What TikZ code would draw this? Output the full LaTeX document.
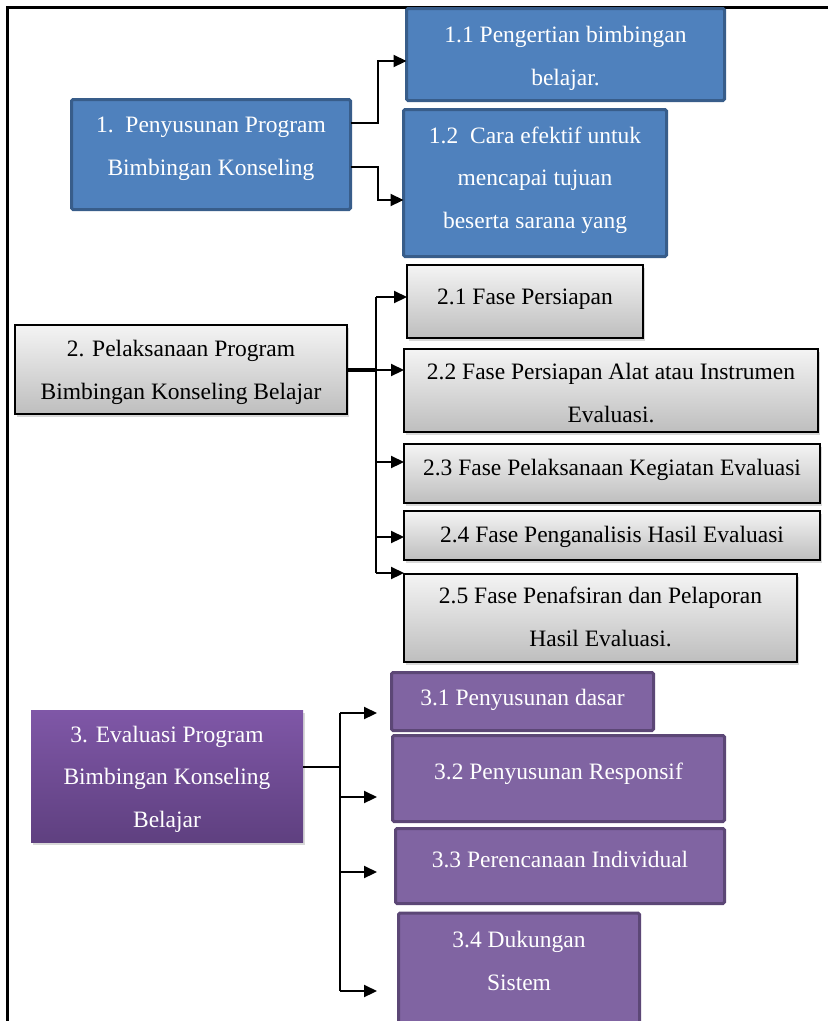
\documentclass[tikz,border=0pt]{standalone}
\usepackage{fontspec}
\setmainfont{Liberation Serif}
\usetikzlibrary{arrows.meta,shadows}
\definecolor{blueFill}{HTML}{4F81BD}
\definecolor{blueLine}{HTML}{385D8A}
\definecolor{greyTop}{HTML}{F4F4F4}
\definecolor{greyBot}{HTML}{BEBEBE}
\definecolor{plumTop}{HTML}{7F57A7}
\definecolor{plumBot}{HTML}{5F4080}
\definecolor{plumFill}{HTML}{8064A2}
\definecolor{plumLine}{HTML}{5C4776}
\tikzset{
  every node/.style={inner sep=0pt, outer sep=0pt},
  bluebox/.style={draw=blueLine, line width=3pt, fill=blueFill, rounded corners=1.5pt},
  greybox/.style={draw=black, line width=1.8pt, top color=greyTop, bottom color=greyBot,
    drop shadow={opacity=0.3, shadow xshift=2pt, shadow yshift=-3pt}},
  mainplum/.style={top color=plumTop, bottom color=plumBot,
    drop shadow={opacity=0.3, shadow xshift=2pt, shadow yshift=-3pt}},
  plumbox/.style={draw=plumLine, line width=3pt, fill=plumFill, rounded corners=1.5pt},
  lbl/.style={anchor=base, align=center, font=\fontsize{23.5}{42.5}\selectfont},
  wlbl/.style={lbl, text=white},
  klbl/.style={lbl, text=black},
  arr/.style={draw=black, line width=2.2pt, -{Triangle[length=13pt,width=12pt]}},
  link/.style={draw=black, line width=2.2pt},
}
\begin{document}
\begin{tikzpicture}[x=1pt, y=-1pt]
\useasboundingbox (0,0) rectangle (828,1021);
\clip (0,0) rectangle (828,1021);
\fill[white] (0,0) rectangle (828,1021);

% frame on the top and left side
\draw[line width=3pt] (7,1030) -- (7,7) -- (840,7);

% ---------- 1. Penyusunan ----------
% labels are anchored at the baseline of their last line
\node[bluebox, minimum width=279pt, minimum height=110pt] (b1) at (211,154.5) {};
\node[bluebox, minimum width=318pt, minimum height=92pt] (b11) at (565.5,54.5) {};
\node[bluebox, minimum width=263pt, minimum height=147pt] (b12) at (535,183) {};
\node[wlbl] (t1) at (211,175) {1.\ \ Penyusunan Program\\Bimbingan Konseling};
\node[wlbl] (t11) at (565.5,85) {1.1 Pengertian bimbingan\\belajar.};
\node[wlbl] (t12) at (535,228) {1.2\ \ Cara efektif untuk\\mencapai tujuan\\beserta sarana yang};

\coordinate (j1a) at (378,123);
\coordinate (j1b) at (378,61);
\coordinate (j1c) at (378,167);
\coordinate (j1d) at (378,200);
\draw[arr] (b1.east |- j1a) -- (j1a) -- (j1b) -- (b11.west |- j1b);
\draw[arr] (b1.east |- j1c) -- (j1c) -- (j1d) -- (b12.west |- j1d);

% ---------- 2. Pelaksanaan ----------
\node[greybox, minimum width=332pt, minimum height=89pt] (b2) at (181,369.5) {};
\node[greybox, minimum width=236pt, minimum height=73pt] (b21) at (525,301.5) {};
\node[greybox, minimum width=414pt, minimum height=83pt] (b22) at (611,390.5) {};
\node[greybox, minimum width=416pt, minimum height=59pt] (b23) at (612,473.5) {};
\node[greybox, minimum width=416pt, minimum height=49pt] (b24) at (612,535.5) {};
\node[greybox, minimum width=393pt, minimum height=88pt] (b25) at (600.5,618) {};
\node[klbl] (t2) at (181,399) {2. Pelaksanaan Program\\Bimbingan Konseling Belajar};
\node[klbl] (t21) at (525,304) {2.1 Fase Persiapan};
\node[klbl] (t22) at (611,422) {2.2 Fase Persiapan Alat atau Instrumen\\Evaluasi.};
\node[klbl] (t23) at (612,475) {2.3 Fase Pelaksanaan Kegiatan Evaluasi};
\node[klbl] (t24) at (612,542) {2.4 Fase Penganalisis Hasil Evaluasi};
\node[klbl] (t25) at (600.5,646) {2.5 Fase Penafsiran dan Pelaporan\\Hasil Evaluasi.};

\coordinate (s2) at (376,370);
\coordinate (s2top) at (376,297);
\coordinate (s2c) at (376,462);
\coordinate (s2d) at (376,537);
\coordinate (s2bot) at (376,573);
\draw[link, line width=3.2pt] (b2.east |- s2) -- (s2);
\draw[link] (s2top) -- (s2bot);
\draw[arr] (s2top) -- (b21.west |- s2top);
\draw[arr] (s2) -- (b22.west |- s2);
\draw[arr] (s2c) -- (b23.west |- s2c);
\draw[arr] (s2d) -- (b24.west |- s2d);
\draw[arr] (s2bot) -- (b25.west |- s2bot);

% ---------- 3. Evaluasi ----------
\node[mainplum, minimum width=272pt, minimum height=132pt] (b3) at (167,776) {};
\node[plumbox, minimum width=262pt, minimum height=58pt] (b31) at (522.5,701.5) {};
\node[plumbox, minimum width=332pt, minimum height=86pt] (b32) at (558.5,778.5) {};
\node[plumbox, minimum width=329pt, minimum height=75pt] (b33) at (560,866) {};
\node[plumbox, minimum width=241pt, minimum height=120pt] (b34) at (519,973) {};
\node[wlbl] (t3) at (167,827) {3. Evaluasi Program\\Bimbingan Konseling\\Belajar};
\node[wlbl] (t31) at (522.5,705) {3.1 Penyusunan dasar};
\node[wlbl] (t32) at (558.5,779) {3.2 Penyusunan Responsif};
\node[wlbl] (t33) at (560,867) {3.3 Perencanaan Individual};
\node[wlbl] (t34) at (519,990) {3.4 Dukungan\\Sistem};

\coordinate (s3) at (340,767);
\coordinate (s3top) at (340,713);
\coordinate (s3b) at (340,797);
\coordinate (s3c) at (340,872);
\coordinate (s3bot) at (340,991);
\coordinate (e31) at (377,713);
\coordinate (e32) at (377,797);
\coordinate (e33) at (377,872);
\coordinate (e34) at (377,991);
\draw[link] (b3.east |- s3) -- (s3);
\draw[link] (s3top) -- (s3bot);
\draw[arr] (s3top) -- (e31);
\draw[arr] (s3b) -- (e32);
\draw[arr] (s3c) -- (e33);
\draw[arr] (s3bot) -- (e34);
\end{tikzpicture}
\end{document}
